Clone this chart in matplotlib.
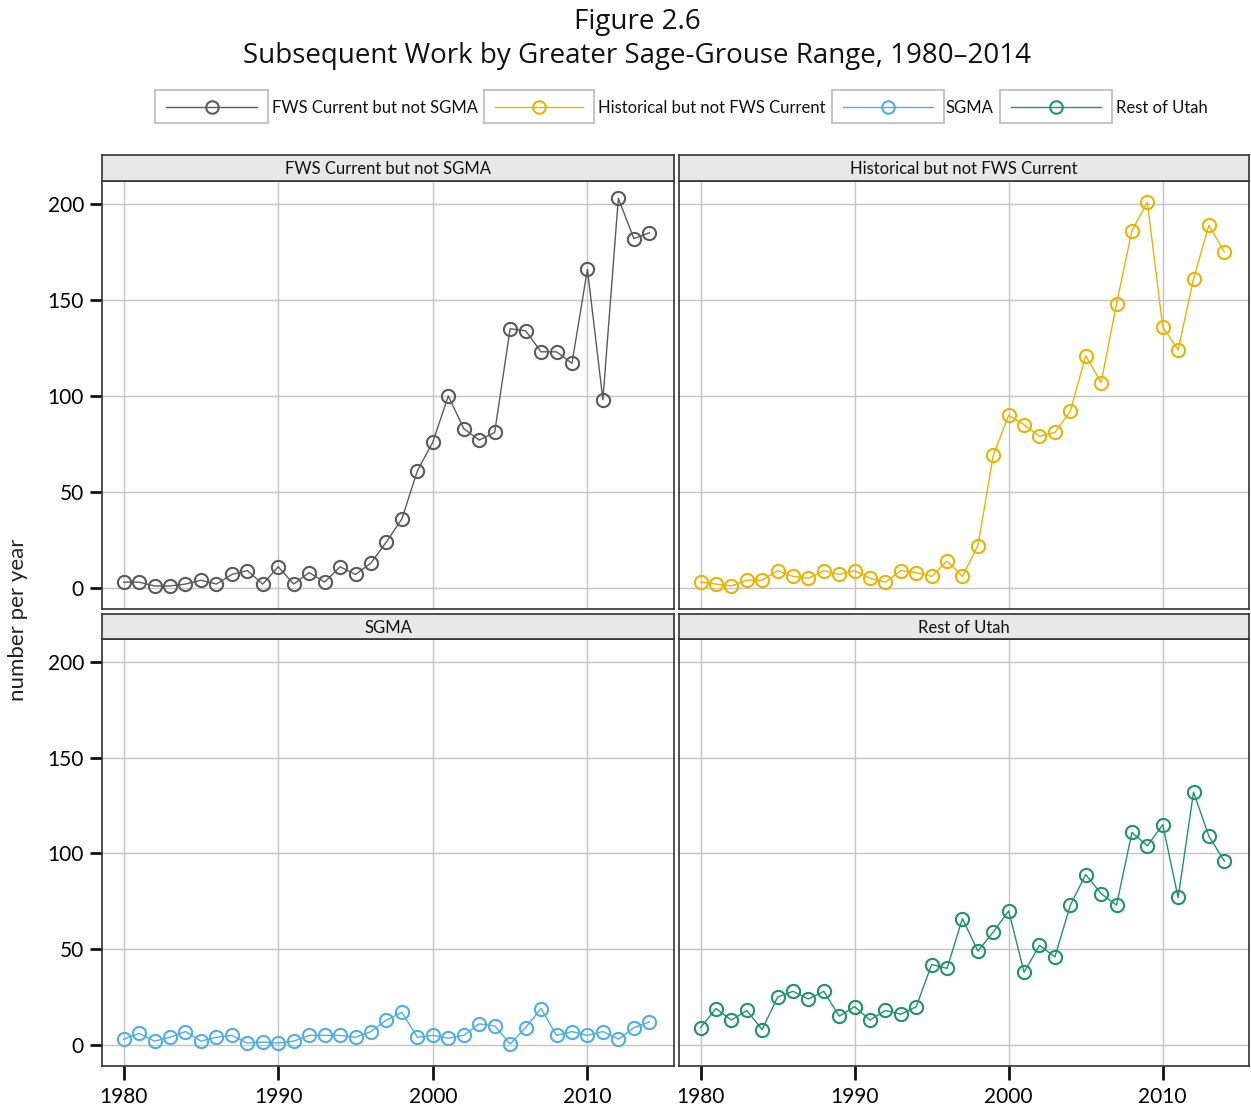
import matplotlib
matplotlib.use("Agg")
import matplotlib.pyplot as plt

plt.rcParams['font.family'] = ['Lato', 'DejaVu Sans']

years = list(range(1980, 2015))

fws_current = [3, 3, 1, 1, 2, 4, 2, 7, 9, 2, 11, 2, 8, 3, 11, 7, 13, 24, 36, 61,
               76, 100, 83, 77, 81, 135, 134, 123, 123, 117, 166, 98, 203, 182, 185]
historical = [3, 2, 1, 4, 4, 9, 6, 5, 9, 7, 9, 5, 3, 9, 8, 6, 14, 6, 22, 69,
              90, 85, 79, 81, 92, 121, 107, 148, 186, 201, 136, 124, 161, 189, 175]
sgma = [3, 6, 2, 4, 7, 2, 4, 5, 1, 1.5, 1, 2, 5, 5, 5, 4, 7, 13, 17, 4,
        5, 3.5, 5, 11, 10, 0.5, 9, 19, 5, 7, 5, 7, 3, 9, 12]
rest_utah = [9, 19, 13, 18, 8, 25, 28, 24, 28, 15, 20, 13, 18, 16, 20, 42, 40, 66, 49, 59,
             70, 38, 52, 46, 73, 89, 79, 73, 111, 104, 115, 77, 132, 109, 96]

series_names = ["FWS Current but not SGMA", "Historical but not FWS Current",
                "SGMA", "Rest of Utah"]
series_values = [fws_current, historical, sgma, rest_utah]
series_colors = ["#5a5a5a", "#E8B400", "#4FAEE3", "#1E9468"]

x_ticks = [1980, 1990, 2000, 2010]
y_ticks = [0, 50, 100, 150, 200]

W, H = 1251, 1109
fig = plt.figure(figsize=(W / 100, H / 100), dpi=100)

def fx(px):
    return px / W

def fy(py):
    return 1 - py / H

# title
fig.text(fx(637), fy(22), "Figure 2.6", ha="center", va="center", fontsize=20,
         family=["Open Sans", "DejaVu Sans"], color="#111111")
fig.text(fx(637), fy(56), "Subsequent Work by Greater Sage-Grouse Range, 1980\u20132014",
         ha="center", va="center", fontsize=20, family=["Open Sans", "DejaVu Sans"],
         color="#111111")

# legend boxes
leg_boxes = [(155, 268, 272), (484, 594, 598), (832, 944, 946), (1000, 1112, 1116)]
for (x0, x1, tx), name, col in zip(leg_boxes, series_names, series_colors):
    lax = fig.add_axes([fx(x0), fy(123), fx(x1 - x0), (123 - 90) / H])
    lax.set_xlim(0, 1)
    lax.set_ylim(0, 1)
    lax.set_xticks([])
    lax.set_yticks([])
    for s in lax.spines.values():
        s.set_color("#bbbbbb")
        s.set_linewidth(1.2)
    lax.plot([0.1, 0.9], [0.5, 0.5], color=col, lw=1.0)
    lax.plot([0.5], [0.5], marker="o", ms=9, mfc="none", mec=col, mew=1.5)
    fig.text(fx(tx), fy(108), name, ha="left", va="center", fontsize=12, color="#111111")

# panels: (left, right, strip_top, plot_top, plot_bottom)
panels = [
    (102, 674, 155, 181, 609),
    (679, 1249, 155, 181, 609),
    (102, 674, 614, 639, 1066),
    (679, 1249, 614, 639, 1066),
]

for i, ((l, r, st, pt, pb), name, vals, col) in enumerate(
        zip(panels, series_names, series_values, series_colors)):
    ax = fig.add_axes([fx(l), fy(pb), fx(r - l), (pb - pt) / H])
    ax.set_xlim(1978.6, 2015.6)
    ax.set_ylim(-11, 212)
    ax.set_xticks(x_ticks)
    ax.set_yticks(y_ticks)
    ax.grid(True, color="#c4c4c4", lw=1.0)
    ax.set_axisbelow(True)
    ax.plot(years, vals, color=col, lw=1.0, marker="o", ms=9.5, mfc="none",
            mec=col, mew=1.5, zorder=3)
    for s in ax.spines.values():
        s.set_color("#333333")
        s.set_linewidth(1.2)
    left_col = i % 2 == 0
    bottom_row = i >= 2
    ax.tick_params(axis="y", which="both", direction="out", length=9, width=2,
                   color="#111111", labelsize=15, pad=4,
                   left=left_col, labelleft=left_col)
    ax.tick_params(axis="x", which="both", direction="out", length=10, width=2,
                   color="#111111", labelsize=15, pad=5,
                   bottom=bottom_row, labelbottom=bottom_row)
    # strip
    sax = fig.add_axes([fx(l), fy(pt), fx(r - l), (pt - st) / H])
    sax.set_xticks([])
    sax.set_yticks([])
    sax.set_facecolor("#e8e8e8")
    for s in sax.spines.values():
        s.set_color("#333333")
        s.set_linewidth(1.2)
    sax.text(0.5, 0.45, name, transform=sax.transAxes, ha="center", va="center",
             fontsize=12, color="#111111")

fig.text(fx(18), fy(620), "number per year", rotation=90, ha="center", va="center",
         fontsize=16, color="#222222")

fig.savefig("out.png", dpi=100)
